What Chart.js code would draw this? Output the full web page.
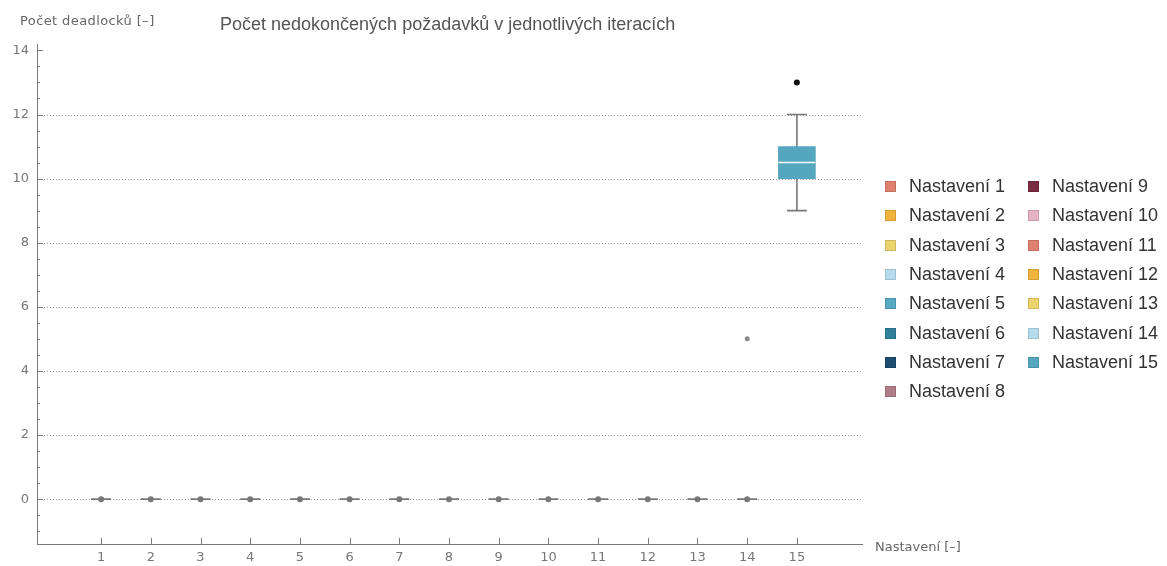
<!DOCTYPE html>
<html>
<head>
<meta charset="utf-8">
<script src="https://cdn.jsdelivr.net/npm/chart.js@4"></script>
<style>
  html, body { margin: 0; padding: 0; background: #fff; }
  #wrap { position: relative; width: 1167px; height: 566px; font-family: "Liberation Sans", Arial, sans-serif; }
  #chart { position: absolute; left: 0; top: 0; }
  .lbl { position: absolute; white-space: nowrap; color: #555; line-height: 1; transform: translateY(-50%); }
  .small { font-family: "DejaVu Sans", Verdana, sans-serif; font-size: 13px; color: #666; }
  #legend { position: absolute; left: 885px; top: 172px; display: grid; grid-auto-flow: column;
            grid-template-rows: repeat(8, 29.3px); grid-template-columns: 143px auto; }
  .item { display: flex; align-items: center; font-size: 18px; color: #333; }
  .sw { width: 11px; height: 11px; margin-right: 13px; box-sizing: border-box; border: 1px solid rgba(0,0,0,0.12); }
</style>
</head>
<body>
<div id="wrap">
  <canvas id="chart" width="1167" height="566"></canvas>
  <div class="lbl" style="left:220px; top:24px; font-size:18px;">Počet nedokončených požadavků v jednotlivých iteracích</div>
  <div class="lbl small" style="left:20px; top:20px; letter-spacing:0.4px;">Počet deadlocků [–]</div>
  <div class="lbl small" style="left:875px; top:546px;">Nastavení [–]</div>
  <div id="legend"></div>
</div>
<script>
// box-whisker statistics per setting
const settings     = [1, 2, 3, 4, 5, 6, 7, 8, 9, 10, 11, 12, 13, 14, 15];
const whiskerLow   = [0, 0, 0, 0, 0, 0, 0, 0, 0, 0, 0, 0, 0, 0, 9];
const quartileLow  = [0, 0, 0, 0, 0, 0, 0, 0, 0, 0, 0, 0, 0, 0, 10];
const medians      = [0, 0, 0, 0, 0, 0, 0, 0, 0, 0, 0, 0, 0, 0, 10.5];
const quartileHigh = [0, 0, 0, 0, 0, 0, 0, 0, 0, 0, 0, 0, 0, 0, 11];
const whiskerHigh  = [0, 0, 0, 0, 0, 0, 0, 0, 0, 0, 0, 0, 0, 0, 12];
const outlierSetting = [14, 15];
const outlierValue   = [5, 13];
const yTickValues = [0, 2, 4, 6, 8, 10, 12, 14];
const gridValues  = [0, 2, 4, 6, 8, 10, 12];

const seriesNames = settings.map(s => 'Nastavení ' + s);
const seriesColors = ['#e0806f', '#f0b33d', '#ecd36b', '#b5dced', '#58a9c2', '#2f7f9d', '#1c4d6c', '#b07c86',
                      '#7a2c42', '#e6b3c2', '#e0806f', '#f0b33d', '#ecd36b', '#b5dced', '#55a6bf'];
const outlierColors = ['#8a8a8a', '#111111'];

// legend
const legend = document.getElementById('legend');
seriesNames.forEach((name, i) => {
  const d = document.createElement('div');
  d.className = 'item';
  d.innerHTML = `<span class="sw" style="background:${seriesColors[i]}"></span><span>${name}</span>`;
  legend.appendChild(d);
});

const axisGray = '#7a7a7a';
const tickFont = { family: '"DejaVu Sans", Verdana, sans-serif', size: 13 };

const boxPlugin = {
  id: 'boxWhisker',
  beforeDatasetsDraw(chart) {
    const { ctx, chartArea, scales: { x, y } } = chart;
    ctx.save();
    // dotted horizontal grid
    ctx.strokeStyle = '#9a9a9a';
    ctx.lineWidth = 1;
    ctx.setLineDash([1, 2]);
    gridValues.forEach(v => {
      const py = Math.round(y.getPixelForValue(v)) + 0.5;
      ctx.beginPath();
      ctx.moveTo(chartArea.left + 1, py);
      ctx.lineTo(chartArea.right, py);
      ctx.stroke();
    });
    ctx.setLineDash([]);
    // whiskers + caps
    ctx.strokeStyle = '#777';
    ctx.lineWidth = 1.6;
    settings.forEach((s, i) => {
      const px = x.getPixelForValue(s);
      const lo = y.getPixelForValue(whiskerLow[i]);
      const hi = y.getPixelForValue(whiskerHigh[i]);
      ctx.beginPath();
      ctx.moveTo(px, lo); ctx.lineTo(px, hi);
      ctx.moveTo(px - 10, lo); ctx.lineTo(px + 10, lo);
      ctx.moveTo(px - 10, hi); ctx.lineTo(px + 10, hi);
      ctx.stroke();
    });
    ctx.restore();
  },
  afterDatasetsDraw(chart) {
    const { ctx, scales: { x, y } } = chart;
    ctx.save();
    settings.forEach((s, i) => {
      const px = x.getPixelForValue(s);
      const py = y.getPixelForValue(medians[i]);
      if (quartileHigh[i] > quartileLow[i]) {
        ctx.strokeStyle = '#ffffff';
        ctx.lineWidth = 1.5;
        ctx.beginPath();
        ctx.moveTo(px - 18.5, py); ctx.lineTo(px + 18.5, py);
        ctx.stroke();
      } else {
        ctx.fillStyle = '#777';
        ctx.beginPath();
        ctx.arc(px, py, 3, 0, Math.PI * 2);
        ctx.fill();
      }
    });
    ctx.restore();
  },
  afterDraw(chart) {
    const { ctx, chartArea, scales: { x, y } } = chart;
    ctx.save();
    ctx.strokeStyle = axisGray;
    ctx.lineWidth = 1;
    ctx.beginPath();
    // y ticks (inside), major every 2, minor every 0.5
    for (let v = -1; v <= 14; v += 0.5) {
      const py = Math.round(y.getPixelForValue(v)) + 0.5;
      const len = (v % 2 === 0) ? 6 : 3;
      ctx.moveTo(chartArea.left, py);
      ctx.lineTo(chartArea.left + len, py);
    }
    // x ticks (inside)
    settings.forEach(s => {
      const px = Math.round(x.getPixelForValue(s)) + 0.5;
      ctx.moveTo(px, chartArea.bottom);
      ctx.lineTo(px, chartArea.bottom - 6);
    });
    ctx.stroke();
    ctx.restore();
  }
};

const boxData = settings
  .map((s, i) => ({ x: s, y: [quartileLow[i], quartileHigh[i]], c: seriesColors[i] }))
  .filter(d => d.y[1] > d.y[0]);

new Chart(document.getElementById('chart'), {
  type: 'bar',
  data: {
    datasets: [
      {
        type: 'bar',
        data: boxData,
        backgroundColor: boxData.map(d => d.c),
        borderWidth: 0,
        barThickness: 37,
        order: 2
      },
      {
        type: 'scatter',
        data: outlierSetting.map((s, i) => ({ x: s, y: outlierValue[i] })),
        pointRadius: [2.5, 3],
        pointBackgroundColor: outlierColors,
        pointBorderWidth: 0,
        order: 1
      }
    ]
  },
  options: {
    responsive: false,
    animation: false,
    layout: { padding: { left: 0, top: 44, right: 1167 - 862, bottom: 0 } },
    plugins: { legend: { display: false }, tooltip: { enabled: false } },
    scales: {
      x: {
        type: 'linear',
        min: -0.29,
        max: 16.31,
        offset: false,
        afterBuildTicks: s => { s.ticks = settings.map(v => ({ value: v })); },
        afterFit: s => { s.height = 22; },
        grid: { display: false, drawTicks: false, offset: false },
        border: { color: axisGray, width: 1 },
        ticks: { color: '#777', font: tickFont, padding: 6, autoSkip: false, maxRotation: 0 }
      },
      y: {
        type: 'linear',
        min: -1.4,
        max: 14.2,
        afterBuildTicks: s => { s.ticks = yTickValues.map(v => ({ value: v })); },
        afterFit: s => { s.width = 37; },
        grid: { display: false, drawTicks: false },
        border: { color: axisGray, width: 1 },
        ticks: { color: '#777', font: tickFont, padding: 8 }
      }
    }
  },
  plugins: [boxPlugin]
});
</script>
</body>
</html>
